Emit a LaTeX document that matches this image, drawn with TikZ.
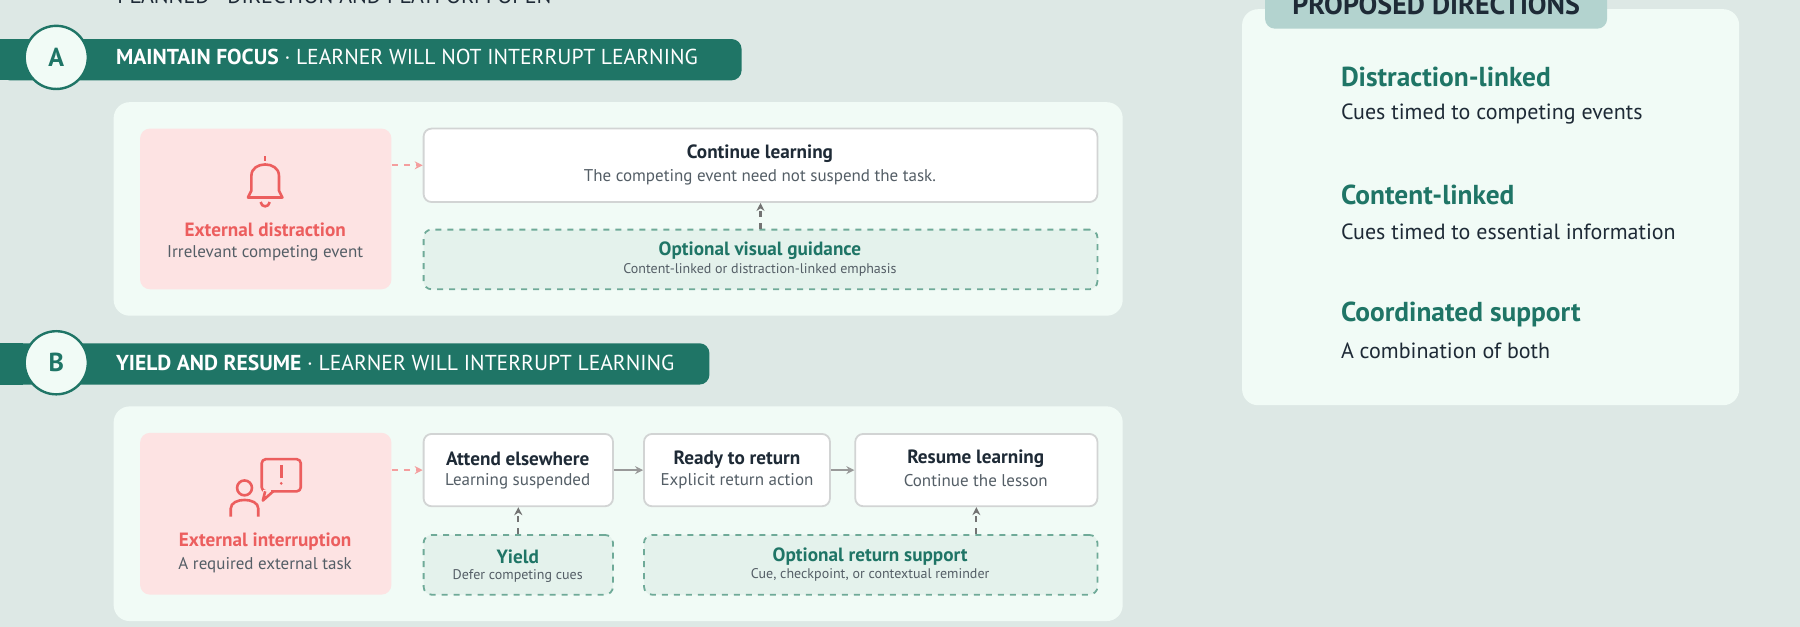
\documentclass[tikz,border=0pt]{standalone}
\usepackage{fontspec}
\setmainfont{PT Sans}
\usetikzlibrary{positioning, calc}
\usetikzlibrary{arrows.meta}
\newlength\px
\setlength\px{0.574pt}
\begin{document}
\begin{tikzpicture}[x=0.574pt, y=-0.574pt, font=\fontsize{8.5}{10}\selectfont, align=center, >={Stealth[length=4pt,width=4pt]}]
        % Define colors
        \definecolor{bggray}{HTML}{DDE8E5}
        \definecolor{deepgreen}{HTML}{1F7566}
        \definecolor{panelmint}{HTML}{F1FBF6}
        \definecolor{alertred}{HTML}{EC5E5E}
        \definecolor{alertpink}{HTML}{FDE3E3}
        \definecolor{boxline}{HTML}{D2D4D4}
        \definecolor{dashgreen}{HTML}{6FAA98}
        \definecolor{guidefill}{HTML}{E4F2EC}
        \definecolor{inkdark}{HTML}{1E2A36}
        \definecolor{inkgray}{HTML}{545E66}
        \definecolor{tabgreen}{HTML}{B3D3CF}

        \tikzset{
            panel/.style={fill=panelmint, rounded corners=8pt, inner sep=0pt},
            source/.style={fill=alertpink, rounded corners=5pt, inner sep=0pt},
            stage/.style={draw=boxline, line width=0.9pt, fill=white, rounded corners=4pt, inner sep=0pt},
            guide/.style={draw=dashgreen, dashed, line width=0.9pt, fill=guidefill, rounded corners=4pt, inner sep=0pt},
            banner/.style={fill=deepgreen, rounded corners=5pt, inner sep=0pt},
            badge/.style={circle, draw=deepgreen, line width=1.2pt, fill=panelmint, minimum size=55\px, text=deepgreen, font=\fontsize{13}{15}\selectfont\bfseries},
            title/.style={font=\fontsize{9.6}{11}\selectfont\bfseries},
            flow/.style={->, draw=gray!80, line width=1.1pt},
            hint/.style={->, draw=gray!90!black, dashed, line width=1.1pt},
            trigger/.style={->, draw=alertred!60, dashed, line width=1.1pt},
        }

        % Canvas
        \useasboundingbox (0,0) rectangle (1568,546);
        \fill[bggray] (0,0) rectangle (1568,546);
        \node[anchor=west, text=inkdark, font=\fontsize{11}{13}\selectfont] (planned) at (96,-4) {PLANNED · DIRECTION AND PLATFORM OPEN};

        % Section A
        \node[banner, minimum width=646\px, minimum height=36\px] (bannerA) at (323,52) {};
        \fill[deepgreen] (0,34) rectangle (20,70);
        \node[anchor=west, text=white, font=\fontsize{10.8}{13}\selectfont] (headA) at (95,50) {\textbf{MAINTAIN FOCUS} · LEARNER WILL NOT INTERRUPT LEARNING};
        \node[badge] (badgeA) at (49,50) {A};
        \node[panel, minimum width=879\px, minimum height=186\px] (panelA) at (538.5,182) {};
        \node[source, minimum width=219\px, minimum height=140\px] (distract) at (231.5,182) {};
        \node[text=alertred, title] (distractT) at (231,200) {External distraction};
        \node[text=inkgray] (distractS) at (231,221) {Irrelevant competing event};
        % bell
        \draw[alertred, line width=1.3pt, line join=round]
            (216,172) -- (219,166) -- (219,153) .. controls (219,140) and (243,140) .. (243,153) -- (243,166) -- (246,172) -- cycle;
        \draw[alertred, line width=1.3pt] (231,136) -- (231,140);
        \draw[alertred, line width=1.3pt] (227,176) .. controls (228,181) and (234,181) .. (235,176);
        \node[stage, minimum width=587\px, minimum height=64\px] (continue) at (662.5,144) {};
        \node[text=inkdark, title] (continueT) at (662,134) {Continue learning};
        \node[text=inkgray] (continueS) at (662,154) {The competing event need not suspend the task.};
        \node[guide, minimum width=587\px, minimum height=52\px] (visual) at (662.5,226) {};
        \node[text=deepgreen, title] (visualT) at (662,218) {Optional visual guidance};
        \node[text=inkgray, font=\scriptsize] (visualS) at (662,235) {Content-linked or distraction-linked emphasis};
        \draw[trigger] (distract.east |- continue) -- (continue.west);
        \draw[hint] (visual.north) -- (continue.south);

        % Section B
        \node[banner, minimum width=618\px, minimum height=36\px] (bannerB) at (309,317) {};
        \fill[deepgreen] (0,299) rectangle (20,335);
        \node[anchor=west, text=white, font=\fontsize{10.8}{13}\selectfont] (headB) at (95,316) {\textbf{YIELD AND RESUME} · LEARNER WILL INTERRUPT LEARNING};
        \node[badge] (badgeB) at (49,316) {B};
        \node[panel, minimum width=879\px, minimum height=187\px] (panelB) at (538.5,447.5) {};
        \node[source, minimum width=219\px, minimum height=141\px] (interrupt) at (231.5,447.5) {};
        \node[text=alertred, title] (interruptT) at (231,472) {External interruption};
        \node[text=inkgray] (interruptS) at (231,492) {A required external task};
        % person with speech bubble
        \draw[alertred, line width=1.3pt] (213,425) circle (6.5);
        \draw[alertred, line width=1.3pt] (201,450) -- (201,443) .. controls (201,433) and (225,433) .. (225,443) -- (225,450);
        \draw[alertred, line width=1.3pt, rounded corners=2pt, line join=round]
            (228,400) rectangle (262,428);
        \fill[alertpink] (229,427) rectangle (236,430);
        \draw[alertred, line width=1.3pt, line join=round] (231,428) -- (229,436) -- (238,428);
        \draw[alertred, line width=1.3pt] (245,405) -- (245,416);
        \fill[alertred] (245,421) circle (1.3);
        \node[stage, minimum width=165\px, minimum height=63\px] (attend) at (451.5,409.5) {};
        \node[text=inkdark, title] (attendT) at (451,400) {Attend elsewhere};
        \node[text=inkgray] (attendS) at (451,419) {Learning suspended};
        \node[stage, minimum width=162\px, minimum height=63\px] (ready) at (642,409.5) {};
        \node[text=inkdark, title] (readyT) at (642,400) {Ready to return};
        \node[text=inkgray] (readyS) at (642,419) {Explicit return action};
        \node[stage, minimum width=211\px, minimum height=63\px] (resume) at (850.5,409.5) {};
        \node[text=inkdark, title] (resumeT) at (850,400) {Resume learning};
        \node[text=inkgray] (resumeS) at (850,419) {Continue the lesson};
        \node[guide, minimum width=165\px, minimum height=52\px] (yield) at (451.5,492) {};
        \node[text=deepgreen, title] (yieldT) at (451,485) {Yield};
        \node[text=inkgray, font=\scriptsize] (yieldS) at (451,502) {Defer competing cues};
        \node[guide, minimum width=395\px, minimum height=52\px] (support) at (758.5,492) {};
        \node[text=deepgreen, title] (supportT) at (758,485) {Optional return support};
        \node[text=inkgray, font=\scriptsize] (supportS) at (758,501) {Cue, checkpoint, or contextual reminder};
        \draw[trigger] (interrupt.east |- attend) -- (attend.west);
        \draw[flow] (attend) -- (ready);
        \draw[flow] (ready) -- (resume);
        \draw[hint] (yield.north) -- (attend.south);
        \draw[hint] (support.north -| resume) -- (resume.south);

        % Proposed directions
        \node[panel, minimum width=433\px, minimum height=345\px] (directions) at (1298.5,180.5) {};
        \node[fill=tabgreen, rounded corners=5pt, minimum width=298\px, minimum height=38\px] (tab) at (1251,6) {};
        \node[text=inkdark, font=\fontsize{14}{16}\selectfont\bfseries] (tabT) at (1251,4) {PROPOSED DIRECTIONS};
        \foreach \y/\head/\body in {67/Distraction-linked/Cues timed to competing events,
                                    170/Content-linked/Cues timed to essential information,
                                    274/Coordinated support/A combination of both} {
            \node[anchor=west, text=deepgreen, font=\fontsize{13.7}{16}\selectfont\bfseries] at (1162,\y) {\head};
            \node[anchor=west, text=inkdark, font=\fontsize{11}{13}\selectfont] at (1162,\y+32) {\body};
        }
    \end{tikzpicture}
\end{document}
